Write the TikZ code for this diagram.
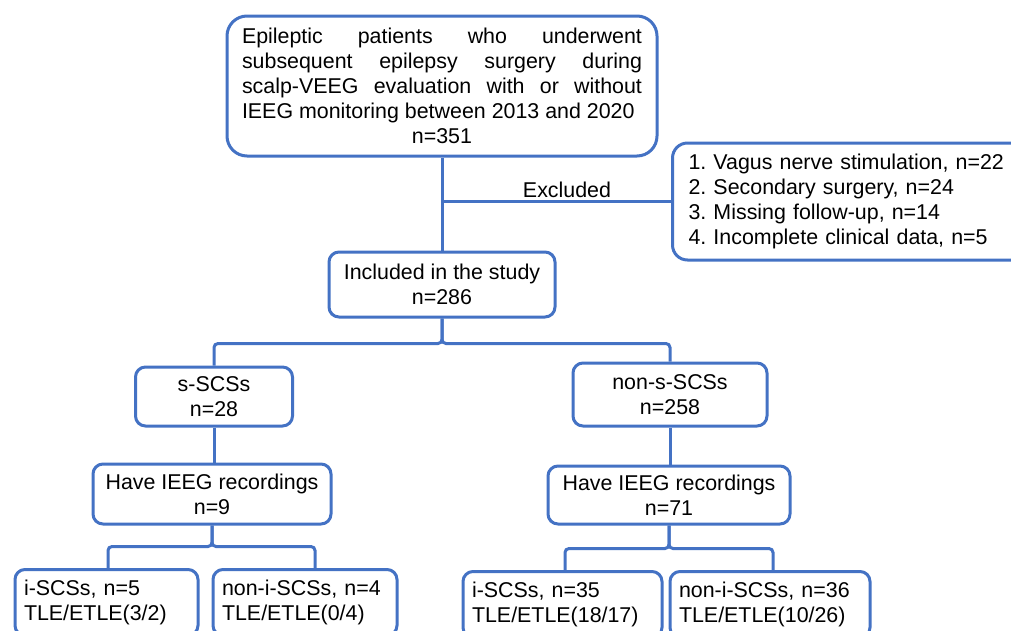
\documentclass[tikz,border=0pt]{standalone}
\usepackage{fontspec}
\setmainfont{Liberation Sans}
\definecolor{boxblue}{RGB}{68,114,196}
\begin{document}
\frenchspacing
\begin{tikzpicture}[x=1pt,y=-1pt,
  bx/.style={draw=boxblue, line width=3pt, rounded corners=10pt, inner sep=0pt,
    font=\fontsize{21.4}{25}\selectfont, align=center, text=black},
  bot/.style={bx, anchor=north, minimum height=66pt, inner xsep=9pt, align=left},
  conn/.style={draw=boxblue, line width=3pt, rounded corners=4pt}]
\useasboundingbox (0,0) rectangle (1011,630);
\clip (0,0) rectangle (1011,630);
\fill[white] (0,0) rectangle (1011,630);

\node[bx, rounded corners=20pt, minimum width=430pt, minimum height=140pt] (top) at (442,86)
  {\makebox[400pt][s]{Epileptic patients who underwent}\\
   \makebox[400pt][s]{subsequent epilepsy surgery during}\\
   \makebox[400pt][s]{scalp-VEEG evaluation with or without}\\
   \makebox[400pt][l]{IEEG monitoring between 2013 and 2020}\\
   n=351};

\node[bx, rounded corners=15pt, anchor=west, minimum height=117pt, inner xsep=16pt,
  text width=340pt, align=left] (excl) at (671,201.5)
  {1. Vagus nerve stimulation, n=22\\
   2. Secondary surgery, n=24\\
   3. Missing follow-up, n=14\\
   4. Incomplete clinical data, n=5};

\node[bx, minimum width=226pt, minimum height=65pt] (incl) at (442,284.5)
  {Included in the study\\n=286};

\node[bx, minimum width=157pt, minimum height=59pt] (s) at (214,396.5) {s-SCSs\\n=28};
\node[bx, minimum width=194pt, minimum height=63pt] (ns) at (670,394.5) {non-s-SCSs\\n=258};

\node[bx, minimum width=238pt, minimum height=60pt] (hL) at (212,494) {Have IEEG recordings\\n=9};
\node[bx, minimum width=242pt, minimum height=58pt] (hR) at (669,495) {Have IEEG recordings\\n=71};

\node[bot, minimum width=183pt, text width=165pt] (l1) at (106.5,568) {i-SCSs, n=5\\TLE/ETLE(3/2)};
\node[bot, minimum width=184pt, text width=166pt] (l2) at (305,568) {non-i-SCSs, n=4\\TLE/ETLE(0/4)};
\node[bot, minimum width=199pt, text width=181pt] (r1) at (562.5,570) {i-SCSs, n=35\\TLE/ETLE(18/17)};
\node[bot, minimum width=200pt, text width=182pt] (r2) at (770,570) {non-i-SCSs, n=36\\TLE/ETLE(10/26)};

\draw[conn] (top.south) -- (incl.north);
\coordinate (exj) at (excl.west -| top.south);
\draw[conn] (excl.west) -- (exj);
\node[font=\fontsize{21.4}{25}\selectfont, anchor=base] (exlab) at (567,197) {Excluded};

\draw[conn] (incl.south) -- ++(0,25) -| (s.north);
\draw[conn] (incl.south) -- ++(0,25) -| (ns.north);
\draw[conn] (s.south) -- (s.south |- hL.north);
\draw[conn] (ns.south) -- (ns.south |- hR.north);

\draw[conn] (hL.south) -- ++(0,21) -| ([xshift=1.5pt]l1.north);
\draw[conn] (hL.south) -- ++(0,21) -| ([xshift=10pt]l2.north);
\draw[conn] (hR.south) -- ++(0,23) -| ([xshift=2.5pt]r1.north);
\draw[conn] (hR.south) -- ++(0,23) -| ([xshift=3pt]r2.north);
\end{tikzpicture}
\end{document}
